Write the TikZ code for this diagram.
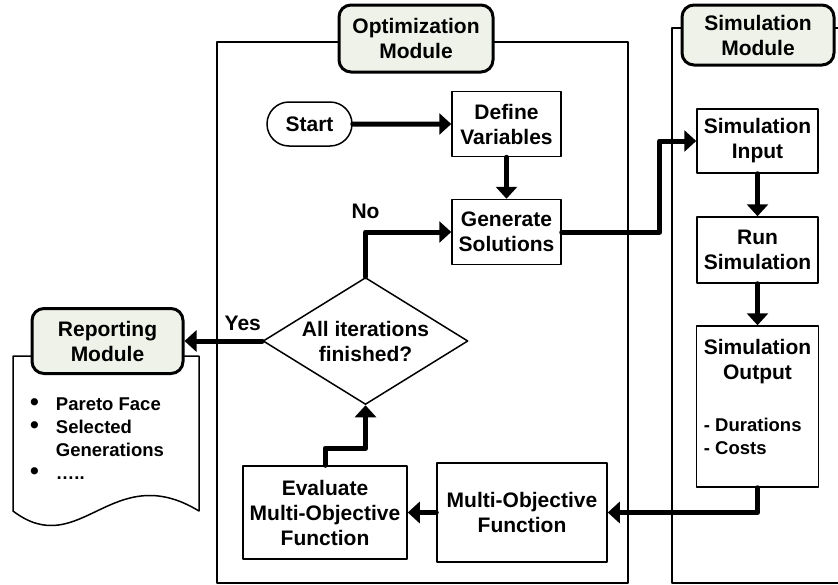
\documentclass[tikz,border=0pt]{standalone}
\usepackage{fontspec}
\setmainfont{Liberation Sans}
\usepackage{tikz}
\usetikzlibrary{shapes.geometric, shapes.misc, positioning, arrows.meta}
\usepackage{xcolor}
\definecolor{modfill}{RGB}{238,242,232}
\newcommand{\repbullet}{{\fontsize{25}{22}\selectfont\textbullet}}

\begin{document}
\begin{tikzpicture}[
    x=1pt,
    y=-1pt,
    >={Triangle[length=12pt,width=21pt]},
    line join=round,
    font=\fontsize{21}{25}\selectfont\bfseries
]

\tikzstyle{block}=[
    draw=black,
    line width=1.5pt,
    align=center,
    inner sep=0pt
]
\tikzstyle{module}=[
    draw=black,
    line width=3pt,
    rounded corners=12pt,
    fill=modfill,
    align=center,
    inner sep=0pt
]
\tikzstyle{modframe}=[draw=black, line width=1.5pt]
\tikzstyle{flow}=[->, line width=5pt, line cap=round]
\tikzstyle{listtext}=[font=\fontsize{18.5}{23}\selectfont\bfseries, inner sep=0pt]

\useasboundingbox (0,0) rectangle (838,584);

\draw[modframe] (217,42) rectangle (628,583);
\draw[modframe] (850,28) -- (672,28) -- (672,583) -- (850,583);
\draw[modframe] (13,356) -- (13,511) .. controls (80,562) and (112,458) .. (199,511) -- (199,356) -- cycle;

\node[module, minimum width=154pt, minimum height=67pt] (OptMod) at (416,38.5) {Optimization\\Module};
\node[module, minimum width=152pt, minimum height=60pt] (SimMod) at (758,35) {Simulation\\Module};
\node[module, minimum width=151pt, minimum height=65pt] (RepMod) at (107.5,341) {Reporting\\Module};

\node[block, rounded rectangle, minimum width=85pt, minimum height=44pt] (Start) at (309.5,124) {Start};
\node[block, minimum width=109pt, minimum height=65pt] (Define) [right of=Start, node distance=197pt] {Define\\Variables};
\node[block, minimum width=109pt, minimum height=65pt] (Gen) [below of=Define, node distance=108pt] {Generate\\Solutions};
\node[block, diamond, aspect=1.61, minimum width=205pt, minimum height=127pt] (Check) at (365.5,341) {All iterations\\finished?};
\node[block, minimum width=164pt, minimum height=93pt] (Eval) at (325,512.5) {Evaluate\\Multi-Objective\\Function};
\node[block, minimum width=170pt, minimum height=99pt] (MOF) [right of=Eval, node distance=197pt] {Multi-Objective\\Function};

\node[block, minimum width=121pt, minimum height=64pt] (SimIn) at (757.5,141) {Simulation\\Input};
\node[block, minimum width=121pt, minimum height=66pt] (SimRun) [below of=SimIn, node distance=109pt] {Run\\Simulation};
\node[block, minimum width=122pt, minimum height=161pt] (SimOut) [below of=SimRun, node distance=156.5pt] {};
\node[inner sep=0pt, align=center, anchor=north] (SimOutHead) at ([yshift=-13.5pt]SimOut.north) {Simulation\\Output};
\node[listtext, align=left, anchor=west] (SimOutList) at ([xshift=8pt,yshift=-29.5pt]SimOut.west) {- Durations\\- Costs};

\node[listtext, anchor=west] (RepList) at (30,440) {\begin{tabular}{@{}l@{\hspace{17pt}}l@{}}
\repbullet & Pareto Face\\
\repbullet & Selected\\
 & Generations\\
\repbullet & …..
\end{tabular}};

\path[flow]
(Start) edge (Define)
(Define) edge (Gen)
(SimIn) edge (SimRun)
(SimRun) edge (SimOut)
(MOF) edge (Eval);

\draw[flow] (Gen.east) -- ++(98,0) |- (SimIn.west);
\draw[flow] (SimOut.south) |- (MOF.east);
\draw[flow] (Eval.north) -- ++(0,-17) -| (Check.south);
\draw[flow] (Check.north) |- (Gen.west) node[pos=0.5, above=11pt, inner sep=0pt] {No};
\draw[flow] (Check.west) -- (RepMod.east) node[pos=0.25, above=8pt, inner sep=0pt] {Yes};

\end{tikzpicture}
\end{document}
